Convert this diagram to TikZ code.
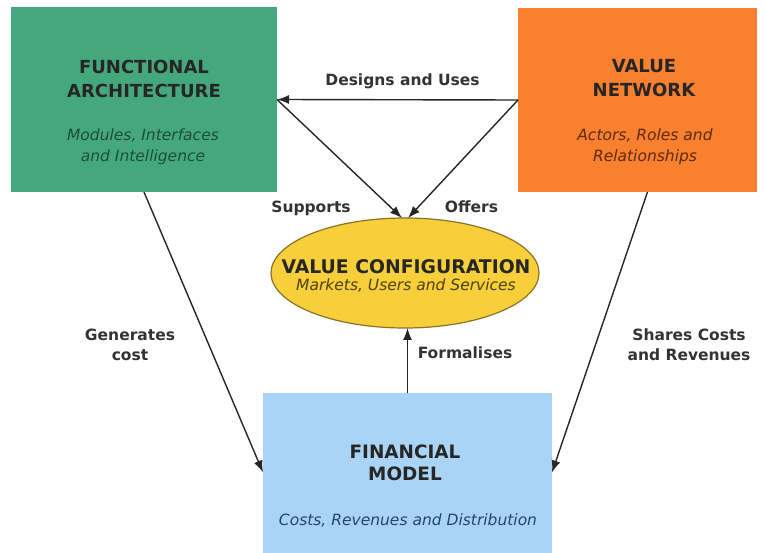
\documentclass[tikz,border=0pt]{standalone}
\usepackage{fontspec}
\setmainfont{DejaVu Sans}
\usepackage{tikz}
\usetikzlibrary{arrows.meta,shapes.geometric}

\definecolor{archgreen}{HTML}{45A87C}
\definecolor{netorange}{HTML}{F9802F}
\definecolor{finblue}{HTML}{AAD4F6}
\definecolor{confyellow}{HTML}{F6CF3A}
\definecolor{confedge}{HTML}{8C7223}
\definecolor{archtext}{HTML}{1E4F36}
\definecolor{nettext}{HTML}{5C2A0C}
\definecolor{fintext}{HTML}{23476B}
\definecolor{conftext}{HTML}{4F3F0C}

\tikzset{
	boxtitle/.style={font=\bfseries\fontsize{18}{24}\selectfont,text=black!85},
	boxsub/.style={font=\itshape\fontsize{15.5}{21}\selectfont},
	linklabel/.style={font=\bfseries\fontsize{15.5}{20}\selectfont,text=black!80},
	link/.style={draw=black!85,line width=1.4pt,-{Latex[length=12pt,width=9pt]}}
}

\begin{document}
\begin{tikzpicture}[x=1pt,y=-1pt]
	\useasboundingbox (0,0) rectangle (766,553);

	% blocks
	\begin{scope}[every node/.style={inner sep=0pt,outer sep=0pt}]
		\node[fill=archgreen,minimum width=266pt,minimum height=185pt] (fa) at (144,99.5) {};
		\node[fill=netorange,minimum width=239pt,minimum height=184pt] (vn) at (637.5,100) {};
		\node[fill=finblue,minimum width=289pt,minimum height=160pt] (fm) at (407.5,472.5) {};
		\node[ellipse,fill=confyellow,draw=confedge,line width=1.2pt,
			minimum width=268pt,minimum height=110pt] (vc) at (405,273) {};
	\end{scope}

	% block texts
	\begin{scope}[every node/.style={align=center,anchor=north,inner sep=0pt}]
		\node[boxtitle] (fatitle) at (144,59.5) {FUNCTIONAL\\ARCHITECTURE};
		\node[boxsub,text=archtext] (fasub) at (143,129) {Modules, Interfaces\\and Intelligence};
		\node[boxtitle] (vntitle) at (644,59.5) {VALUE\\NETWORK};
		\node[boxsub,text=nettext] (vnsub) at (645,129) {Actors, Roles and\\Relationships};
		\node[boxtitle,font=\bfseries\fontsize{18.4}{22.5}\selectfont] (fmtitle) at (405,444.5) {FINANCIAL\\MODEL};
		\node[boxsub,text=fintext] (fmsub) at (408,514) {Costs, Revenues and Distribution};
		\node[boxtitle,font=\bfseries\fontsize{18.8}{24}\selectfont] (vctitle) at (406,259.5) {VALUE CONFIGURATION};
		\node[boxsub,text=conftext] (vcsub) at (406,279) {Markets, Users and Services};
	\end{scope}

	% links
	\draw[link] (vn.west) -- (fa.east);
	\draw[link] (fa.east) -- ([xshift=-3pt]vc.north);
	\draw[link] (vn.west) -- ([xshift=3pt]vc.north);
	\draw[link] (fa.south) -- (fm.west);
	\draw[link] ([xshift=10pt]vn.south) -- (fm.east);
	\draw[link] (fm.north) -- (fm.north |- vc.south);

	% link labels
	\begin{scope}[every node/.style={linklabel,align=center,anchor=north,inner sep=0pt}]
		\node (designs) at (402.5,74) {Designs and Uses};
		\node (supports) at (311,201) {Supports};
		\node (offers) at (471.5,201) {Offers};
		\node (generates) at (130,329) {Generates\\cost};
		\node (shares) at (689,329) {Shares Costs\\and Revenues};
		\node (formalises) at (465,347) {Formalises};
	\end{scope}
\end{tikzpicture}
\end{document}
